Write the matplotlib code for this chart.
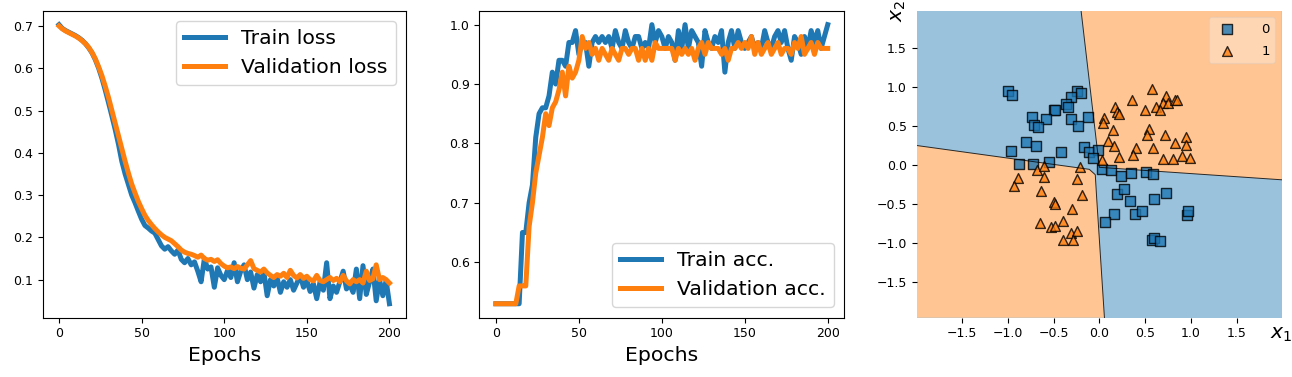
import numpy as np
import matplotlib.pyplot as plt
from matplotlib.colors import to_rgb
from matplotlib.ticker import MultipleLocator

# epochs sampled every 2 steps
epochs = list(range(0, 201, 2))

train_loss = [0.703, 0.694, 0.689, 0.685, 0.681, 0.677, 0.672, 0.666, 0.658, 0.648,
              0.636, 0.620, 0.600, 0.576, 0.548, 0.518, 0.487, 0.455, 0.420, 0.380,
              0.350, 0.325, 0.300, 0.282, 0.262, 0.243, 0.228, 0.222, 0.215, 0.210,
              0.195, 0.180, 0.172, 0.178, 0.168, 0.160, 0.170, 0.148, 0.140, 0.150,
              0.135, 0.142, 0.120, 0.095, 0.150, 0.125, 0.130, 0.082, 0.128, 0.110,
              0.100, 0.122, 0.105, 0.140, 0.095, 0.120, 0.135, 0.100, 0.118, 0.080,
              0.112, 0.095, 0.118, 0.062, 0.100, 0.085, 0.105, 0.070, 0.095, 0.082,
              0.100, 0.075, 0.092, 0.110, 0.082, 0.098, 0.072, 0.090, 0.055, 0.095,
              0.075, 0.140, 0.055, 0.085, 0.070, 0.095, 0.120, 0.078, 0.088, 0.070,
              0.125, 0.055, 0.133, 0.065, 0.095, 0.125, 0.050, 0.100, 0.062, 0.098,
              0.043]
valid_loss = [0.700, 0.693, 0.688, 0.684, 0.680, 0.676, 0.671, 0.665, 0.658, 0.649,
              0.637, 0.622, 0.603, 0.582, 0.557, 0.530, 0.500, 0.470, 0.440, 0.410,
              0.380, 0.352, 0.326, 0.305, 0.285, 0.268, 0.252, 0.240, 0.230, 0.221,
              0.213, 0.206, 0.200, 0.196, 0.192, 0.185, 0.178, 0.170, 0.165, 0.162,
              0.160, 0.157, 0.153, 0.158, 0.150, 0.146, 0.148, 0.143, 0.147, 0.138,
              0.132, 0.128, 0.130, 0.126, 0.131, 0.127, 0.125, 0.135, 0.145, 0.126,
              0.122, 0.118, 0.125, 0.116, 0.110, 0.105, 0.112, 0.108, 0.115, 0.105,
              0.122, 0.110, 0.104, 0.112, 0.103, 0.108, 0.100, 0.097, 0.110, 0.098,
              0.095, 0.100, 0.105, 0.098, 0.103, 0.095, 0.110, 0.097, 0.090, 0.100,
              0.095, 0.100, 0.092, 0.120, 0.098, 0.102, 0.135, 0.100, 0.105, 0.100,
              0.092]
train_acc = [0.53, 0.53, 0.53, 0.53, 0.53, 0.53, 0.53, 0.53, 0.65, 0.65,
             0.70, 0.73, 0.81, 0.85, 0.86, 0.86, 0.88, 0.92, 0.90, 0.94,
             0.94, 0.93, 0.97, 0.97, 0.99, 0.95, 0.97, 0.97, 0.93, 0.97,
             0.98, 0.97, 0.98, 0.97, 0.98, 0.96, 0.99, 0.97, 0.96, 0.99,
             0.97, 0.96, 0.98, 0.98, 0.96, 0.97, 0.96, 1.00, 0.97, 0.99,
             0.98, 0.96, 0.98, 0.97, 0.94, 0.99, 0.96, 1.00, 0.96, 0.99,
             0.98, 0.97, 0.93, 0.99, 0.97, 0.96, 0.98, 0.97, 0.99, 0.92,
             0.97, 0.99, 0.96, 0.99, 0.97, 0.96, 0.97, 0.98, 0.96, 0.97,
             0.96, 0.99, 0.97, 0.96, 0.98, 0.99, 0.97, 0.99, 0.96, 0.94,
             0.98, 0.97, 0.95, 0.98, 0.96, 0.99, 0.97, 0.99, 0.96, 0.98,
             1.00]
valid_acc = [0.53, 0.53, 0.53, 0.53, 0.53, 0.53, 0.53, 0.56, 0.56, 0.56,
             0.66, 0.70, 0.75, 0.78, 0.81, 0.85, 0.83, 0.86, 0.87, 0.89,
             0.92, 0.88, 0.93, 0.91, 0.92, 0.94, 0.98, 0.96, 0.97, 0.95,
             0.96, 0.94, 0.96, 0.95, 0.94, 0.96, 0.95, 0.94, 0.96, 0.96,
             0.95, 0.96, 0.96, 0.94, 0.96, 0.94, 0.96, 0.94, 0.97, 0.96,
             0.96, 0.96, 0.96, 0.96, 0.94, 0.96, 0.95, 0.96, 0.95, 0.96,
             0.94, 0.96, 0.97, 0.95, 0.97, 0.96, 0.96, 0.96, 0.95, 0.96,
             0.94, 0.96, 0.96, 0.97, 0.96, 0.97, 0.96, 0.98, 0.95, 0.97,
             0.95, 0.96, 0.97, 0.95, 0.96, 0.97, 0.95, 0.96, 0.96, 0.95,
             0.97, 0.96, 0.98, 0.95, 0.96, 0.97, 0.95, 0.97, 0.96, 0.96,
             0.96]

# validation points (x1, x2), class 0 = squares, class 1 = triangles
class0_x1 = [-1.00, -0.95, -0.25, -0.20, -0.31, -0.36, -0.34, -0.50, -0.49, -0.74,
             -0.58, -0.31, -0.12, -0.71, -0.67, -0.23, -0.80, -0.69, -0.96, -0.42,
             -0.17, -0.11, -0.02, -0.07, -0.88, -0.73, -0.55, 0.03, 0.13, 0.24,
             0.34, 0.51, 0.59, 0.19, 0.27, 0.33, 0.73, 0.60, 0.16, 0.06,
             0.39, 0.46, 0.96, 0.97, 0.57, 0.60, 0.66]
class0_x2 = [0.95, 0.90, 0.95, 0.92, 0.87, 0.78, 0.75, 0.71, 0.71, 0.62,
             0.59, 0.59, 0.62, 0.51, 0.49, 0.50, 0.30, 0.24, 0.18, 0.17,
             0.23, 0.17, 0.19, 0.09, 0.01, 0.01, 0.04, -0.05, -0.06, -0.14,
             -0.10, -0.09, -0.12, -0.37, -0.31, -0.46, -0.36, -0.44, -0.63, -0.73,
             -0.63, -0.59, -0.64, -0.59, -0.96, -0.94, -0.97]
class1_x1 = [0.57, 0.73, 0.36, 0.69, 0.75, 0.83, 0.85, 0.17, 0.19, 0.21,
             0.50, 0.62, 0.66, 0.05, 0.04, 0.15, 0.54, 0.52, 0.72, 0.09,
             0.16, 0.40, 0.37, 0.58, 0.83, 0.95, 0.95, 0.21, 0.69, 0.80,
             0.90, 0.99, 0.03,
             -0.68, -0.61, -0.21, -0.89, -0.93, -0.60, -0.24, -0.64, -0.19, -0.50,
             -0.48, -0.30, -0.40, -0.65, -0.53, -0.49, -0.31, -0.24, -0.40, -0.29]
class1_x2 = [0.97, 0.89, 0.83, 0.80, 0.80, 0.83, 0.83, 0.75, 0.68, 0.66,
             0.71, 0.74, 0.70, 0.60, 0.54, 0.45, 0.46, 0.39, 0.38, 0.31,
             0.25, 0.22, 0.13, 0.22, 0.28, 0.36, 0.26, 0.10, 0.08, 0.08,
             0.11, 0.09, 0.07,
             -0.07, -0.01, -0.03, -0.17, -0.27, -0.16, -0.18, -0.34, -0.38, -0.48,
             -0.50, -0.56, -0.72, -0.75, -0.80, -0.78, -0.87, -0.85, -0.96, -0.96]

# decision regions of class 1 (data coords), rest of the plane is class 0
region_xlim = (-1.995, 1.99)
region_ylim = (-1.96, 1.98)
upper_right_x1 = [-0.20, 1.99, 1.99, 0.00]
upper_right_x2 = [1.98, 1.98, -0.19, -0.03]
lower_left_x1 = [-1.995, -1.995, 0.055, -0.03, -0.045, -0.11]
lower_left_x2 = [0.25, -1.96, -1.96, -0.42, -0.125, -0.056]

plt.rcParams['xtick.labelsize'] = 9
plt.rcParams['ytick.labelsize'] = 9


def blend(color, alpha=0.45):
    """Flatten a semi-transparent colour onto white."""
    return tuple(1 - alpha * (1 - np.array(to_rgb(color))))


def plot_curves(ax, a, b, labels, loc):
    """Train / validation curve pair."""
    ax.plot(epochs, a, lw=3.6, color='tab:blue', label=labels[0])
    ax.plot(epochs, b, lw=3.6, color='tab:orange', label=labels[1])
    ax.xaxis.set_major_locator(MultipleLocator(50))
    ax.legend(fontsize=14.7, loc=loc)
    ax.set_xlabel('Epochs', size=14.7)


def plot_regions(ax):
    """Decision regions with the validation points on top."""
    ax.set_facecolor(blend('tab:blue'))
    ax.fill(upper_right_x1, upper_right_x2, color=blend('tab:orange'), lw=0)
    ax.fill(lower_left_x1, lower_left_x2, color=blend('tab:orange'), lw=0)
    # boundary lines (inner edges of the polygons)
    ax.plot([upper_right_x1[i] for i in (0, 3, 2)],
            [upper_right_x2[i] for i in (0, 3, 2)], color='k', lw=0.7, alpha=0.8)
    ax.plot([lower_left_x1[i] for i in (0, 5, 4, 3, 2)],
            [lower_left_x2[i] for i in (0, 5, 4, 3, 2)], color='k', lw=0.7, alpha=0.8)

    ax.scatter(class0_x1, class0_x2, marker='s', s=46, c='tab:blue',
               edgecolor='black', linewidths=1, alpha=0.8, label='0')
    ax.scatter(class1_x1, class1_x2, marker='^', s=50, c='tab:orange',
               edgecolor='black', linewidths=1, alpha=0.8, label='1')
    ax.legend(loc='upper right', framealpha=0.3, fontsize=9.5, scatterpoints=1,
              handletextpad=1.6, labelspacing=0.7)

    ax.set_xlim(*region_xlim)
    ax.set_ylim(*region_ylim)
    ax.xaxis.set_major_locator(MultipleLocator(0.5))
    for sp in ax.spines.values():
        sp.set_visible(False)
    ax.set_xlabel(r'$x_1$', size=14.7)
    ax.xaxis.set_label_coords(1, -0.025)
    ax.set_ylabel(r'$x_2$', size=14.7)
    ax.yaxis.set_label_coords(-0.025, 1)


fig = plt.figure(figsize=(12.92, 3.77), dpi=100)
ax1 = fig.add_axes([0.0329, 0.1573, 0.2813, 0.8143])
ax2 = fig.add_axes([0.3710, 0.1573, 0.2825, 0.8143])
ax3 = fig.add_axes([0.7095, 0.1573, 0.2825, 0.8143])

plot_curves(ax1, train_loss, valid_loss, ['Train loss', 'Validation loss'], 'upper right')
plot_curves(ax2, train_acc, valid_acc, ['Train acc.', 'Validation acc.'], 'lower right')
plot_regions(ax3)

fig.savefig('out.png', dpi=100)
